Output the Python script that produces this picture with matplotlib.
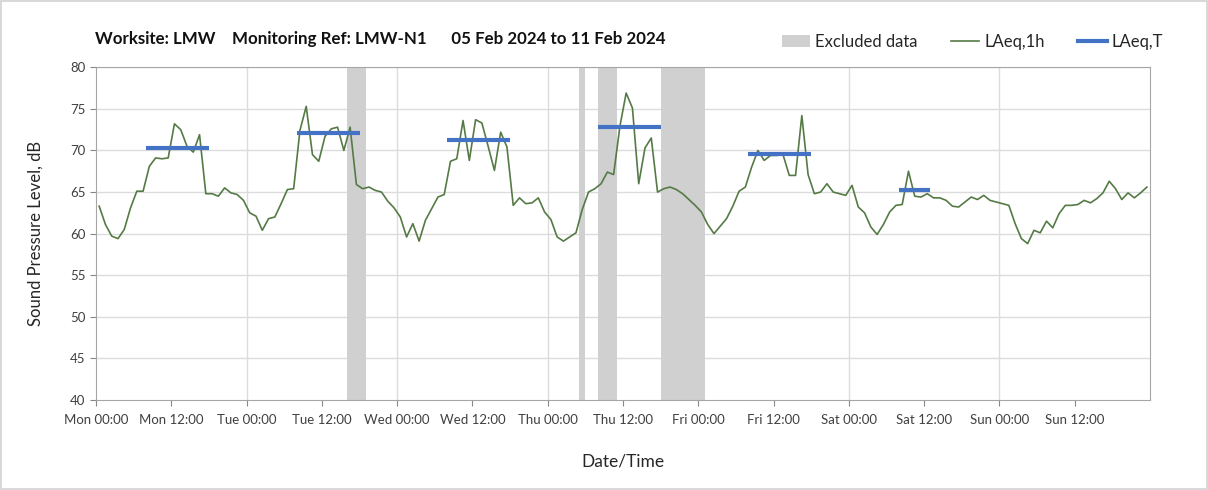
import matplotlib
matplotlib.use("Agg")
import matplotlib.pyplot as plt
from matplotlib.patches import Patch
from matplotlib.lines import Line2D

plt.rcParams['font.family'] = ['Lato', 'DejaVu Sans']

# hourly LAeq,1h values, Mon 00:00 to Sun 23:00 (plotted at mid-hour)
laeq_1h = [
    63.3, 61.1, 59.7, 59.4, 60.5, 63.1, 65.1, 65.1, 68.1, 69.1,
    69.0, 69.1, 73.2, 72.5, 70.5, 69.8, 71.9, 64.8, 64.8, 64.5,
    65.5, 64.9, 64.7, 64.0, 62.5, 62.1, 60.4, 61.8, 62.0, 63.6,
    65.3, 65.4, 72.4, 75.3, 69.5, 68.7, 71.7, 72.6, 72.8, 70.0,
    72.8, 65.9, 65.4, 65.6, 65.2, 65.0, 63.9, 63.1, 62.0, 59.6,
    61.2, 59.1, 61.6, 63.0, 64.4, 64.7, 68.7, 69.0, 73.6, 68.8,
    73.7, 73.3, 70.5, 67.6, 72.2, 70.4, 63.4, 64.3, 63.6, 63.7,
    64.3, 62.6, 61.7, 59.6, 59.1, 59.6, 60.1, 62.9, 65.0, 65.4,
    66.0, 67.4, 67.1, 72.9, 76.9, 75.1, 66.0, 70.3, 71.5, 65.0,
    65.4, 65.6, 65.3, 64.8, 64.1, 63.4, 62.6, 61.1, 60.0, 60.9,
    61.8, 63.3, 65.1, 65.6, 68.0, 70.0, 68.8, 69.4, 69.4, 69.5,
    67.0, 67.0, 74.2, 67.1, 64.8, 65.0, 66.0, 65.0, 64.8, 64.6,
    65.8, 63.2, 62.5, 60.8, 59.9, 61.1, 62.6, 63.4, 63.5, 67.5,
    64.5, 64.4, 64.8, 64.3, 64.3, 64.0, 63.3, 63.2, 63.8, 64.4,
    64.1, 64.6, 64.0, 63.8, 63.6, 63.4, 61.2, 59.4, 58.8, 60.4,
    60.1, 61.5, 60.7, 62.4, 63.4, 63.4, 63.5, 64.0, 63.7, 64.2,
    64.9, 66.3, 65.4, 64.1, 64.9, 64.3, 64.9, 65.6,
]
hours = [h + 0.5 for h in range(len(laeq_1h))]

# LAeq,T periods (hours from Mon 00:00)
laeq_t_start = [8, 32, 56, 80, 104, 128]
laeq_t_end = [18, 42, 66, 90, 114, 133]
laeq_t = [70.3, 72.1, 71.3, 72.8, 69.6, 65.25]

# excluded periods (hours from Mon 00:00)
excl_start = [40, 77, 80, 90]
excl_end = [43, 78, 83, 97]

days = ['Mon', 'Tue', 'Wed', 'Thu', 'Fri', 'Sat', 'Sun']
tick_labels = [f'{d} {t}' for d in days for t in ('00:00', '12:00')]

fig = plt.figure(figsize=(12.08, 4.90), dpi=100)
fig.patch.set_edgecolor('#d9d9d9')
fig.patch.set_linewidth(1.5)
ax = fig.add_axes([0.0795, 0.1837, 0.8725, 0.679])

for s, e in zip(excl_start, excl_end):
    ax.axvspan(s, e, color='#d0d0d0', lw=0, zorder=1)

ax.plot(hours, laeq_1h, color='#557a45', lw=1.2, zorder=3)
ax.hlines(laeq_t, laeq_t_start, laeq_t_end, color='#4472c4', lw=3, zorder=4)

ax.set_xlim(0, 168)
ax.set_ylim(40, 80)
ax.set_xticks(range(0, 168, 12))
ax.set_xticklabels(tick_labels)
ax.set_yticks(range(40, 81, 5))
ax.tick_params(colors='#404040', labelsize=9.5, length=4, color='#888888')
ax.tick_params(axis='x', pad=6)

for d in range(1, 7):
    ax.axvline(d * 24, color='#dcdcdc', lw=1, zorder=0)
for y in range(45, 81, 5):
    ax.axhline(y, color='#dcdcdc', lw=1, zorder=0)
for sp in ax.spines.values():
    sp.set_color('#a6a6a6')

ax.set_ylabel('Sound Pressure Level, dB', fontsize=12, color='#262626', labelpad=19)
ax.set_xlabel('Date/Time', fontsize=12.5, color='#262626', labelpad=20)

fig.text(0.0786, 0.92, 'Worksite: LMW    Monitoring Ref: LMW-N1      05 Feb 2024 to 11 Feb 2024',
         fontsize=12.2, fontweight='bold', color='#111111', va='center')

handles = [Patch(facecolor='#d0d0d0', edgecolor='none'),
           Line2D([], [], color='#557a45', lw=1.2),
           Line2D([], [], color='#4472c4', lw=3)]
fig.legend(handles, ['Excluded data', 'LAeq,1h', 'LAeq,T'], ncol=3, frameon=False,
           loc='center', bbox_to_anchor=(0.805, 0.914), fontsize=12,
           columnspacing=2.0, handlelength=1.7, handletextpad=0.3,
           labelcolor='#262626')

fig.savefig('out.png', dpi=100)
